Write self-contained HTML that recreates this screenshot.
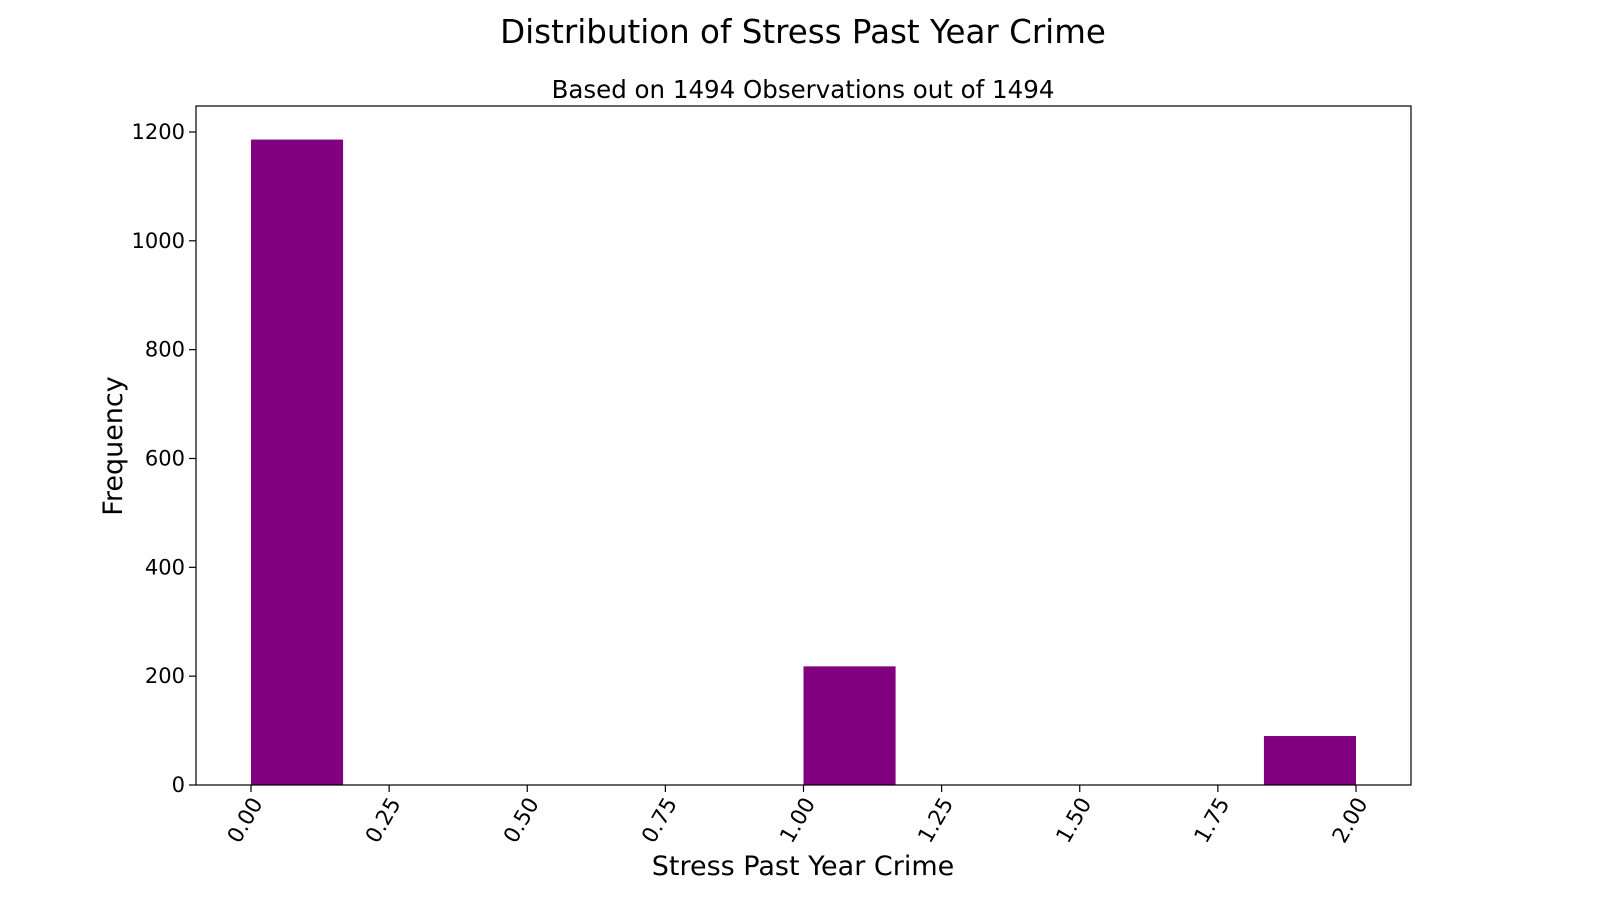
<!DOCTYPE html>
<html><head><meta charset="utf-8"><style>
body{margin:0;background:#fff;font-family:"DejaVu Sans","Liberation Sans",sans-serif;}
svg text{font-family:"DejaVu Sans","Liberation Sans",sans-serif;fill:#000;}
</style></head><body>
<svg id="chart" width="1600" height="900" xmlns="http://www.w3.org/2000/svg">
<text x="803" y="43" font-size="32.5" text-anchor="middle">Distribution of Stress Past Year Crime</text>
<text x="803" y="98" font-size="24.5" text-anchor="middle">Based on 1494 Observations out of 1494</text>
<g id="bars"></g>
<g id="xticks"></g>
<g id="yticks"></g>
<rect x="196" y="106" width="1215" height="679" fill="none" stroke="#000" stroke-width="1.2"/>
<text x="803" y="875" font-size="27" text-anchor="middle">Stress Past Year Crime</text>
<text transform="translate(122,446) rotate(-90)" font-size="27" text-anchor="middle">Frequency</text>
</svg>
<script>
const binEdges=[0,1/6,2/6,3/6,4/6,5/6,1,7/6,8/6,9/6,10/6,11/6,2];
const counts=[1186,0,0,0,0,0,218,0,0,0,0,90];
const xTickValues=[0,0.25,0.5,0.75,1,1.25,1.5,1.75,2];
const xTickLabels=["0.00","0.25","0.50","0.75","1.00","1.25","1.50","1.75","2.00"];
const yTickValues=[0,200,400,600,800,1000,1200];
const ns="http://www.w3.org/2000/svg";
const x=v=>251+v*552.5;
const y=v=>785-v*0.5442;
function mk(t,a,p){const e=document.createElementNS(ns,t);for(const k in a)e.setAttribute(k,a[k]);p.appendChild(e);return e;}
const bars=document.getElementById('bars');
counts.forEach((c,i)=>{if(c<=0)return;
const r=mk('rect',{x:x(binEdges[i]),y:y(c),width:x(binEdges[i+1])-x(binEdges[i]),height:y(0)-y(c),fill:'#800080'},bars);

});
const xt=document.getElementById('xticks');
xTickValues.forEach((v,i)=>{const px=x(v);
mk('line',{x1:px,x2:px,y1:785,y2:792,stroke:'#000','stroke-width':1.2},xt);
const t=mk('text',{transform:`translate(${px+7},${800}) rotate(-60)`,'font-size':21.5,'text-anchor':'end','dominant-baseline':'middle'},xt);
t.textContent=xTickLabels[i];

});
const yt=document.getElementById('yticks');
yTickValues.forEach(v=>{const py=y(v);
mk('line',{x1:189,x2:196,y1:py,y2:py,stroke:'#000','stroke-width':1.2},yt);
const t=mk('text',{x:185,y:py+7,'font-size':21,'text-anchor':'end'},yt);
t.textContent=String(v);

});
</script>
</body></html>
